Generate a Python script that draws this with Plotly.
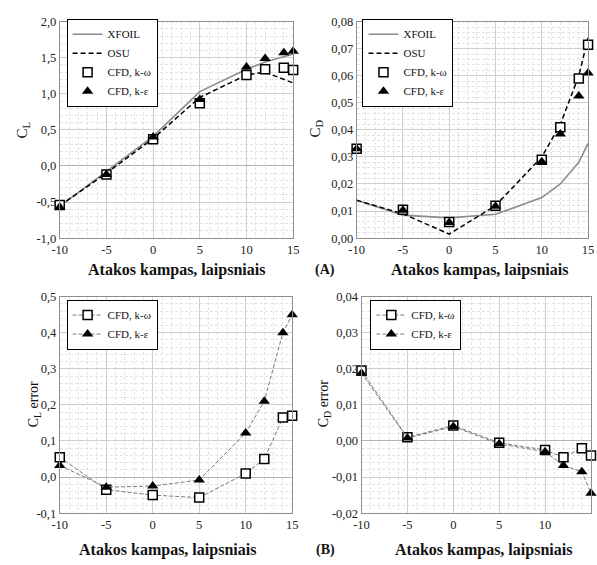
import plotly.graph_objects as go

# ---------------- data ----------------
alpha = [-10, -5, 0, 5, 10, 12, 14, 15]

cl_xfoil = [-0.56, -0.07, 0.41, 1.03, 1.34, 1.44, 1.52, 1.55]
cl_osu = [-0.55, -0.10, 0.38, 0.95, 1.26, 1.30, 1.20, 1.15]
cl_kw = [-0.54, -0.12, 0.37, 0.87, 1.26, 1.34, 1.36, 1.33]
cl_ke = [-0.57, -0.12, 0.40, 0.92, 1.37, 1.49, 1.57, 1.59]

cd_xfoil = [0.0140, 0.0085, 0.0075, 0.0088, 0.0150, 0.0200, 0.0280, 0.0350]
cd_osu = [0.0140, 0.0090, 0.0015, 0.0120, 0.0300, 0.0420, 0.0600, 0.0740]
cd_kw = [0.0330, 0.0105, 0.0060, 0.0120, 0.0290, 0.0410, 0.0590, 0.0715]
cd_ke = [0.0330, 0.0103, 0.0058, 0.0118, 0.0282, 0.0385, 0.0525, 0.0610]

clerr_kw = [0.055, -0.035, -0.050, -0.057, 0.010, 0.050, 0.165, 0.170]
clerr_ke = [0.032, -0.028, -0.025, -0.008, 0.122, 0.210, 0.400, 0.450]

cderr_kw = [0.0195, 0.0010, 0.0043, -0.0005, -0.0025, -0.0045, -0.0020, -0.0040]
cderr_ke = [0.0188, 0.0008, 0.0040, -0.0008, -0.0030, -0.0068, -0.0085, -0.0145]

x_ticks = [-10, -5, 0, 5, 10, 15]
x_ticktext = ["-10", "-5", "0", "5", "10", "15"]
cl_ticks = [-1.0, -0.5, 0.0, 0.5, 1.0, 1.5, 2.0]
cl_ticktext = ["-1,0", "-0,5", "0,0", "0,5", "1,0", "1,5", "2,0"]
cd_ticks = [0.00, 0.01, 0.02, 0.03, 0.04, 0.05, 0.06, 0.07, 0.08]
cd_ticktext = ["0,00", "0,01", "0,02", "0,03", "0,04", "0,05", "0,06", "0,07", "0,08"]
clerr_ticks = [-0.1, 0.0, 0.1, 0.2, 0.3, 0.4, 0.5]
clerr_ticktext = ["-0,1", "0,0", "0,1", "0,2", "0,3", "0,4", "0,5"]
cderr_ticks = [-0.02, -0.01, 0.00, 0.01, 0.02, 0.03, 0.04]
cderr_ticktext = ["-0,02", "-0,01", "0,00", "0,01", "0,02", "0,03", "0,04"]

x_title = "Atakos kampas, laipsniais"

# ---------------- styles ----------------
FONT = "Times New Roman, Liberation Serif, serif"
W, H = 597, 565
sq = dict(symbol="square", size=9, color="white", line=dict(color="black", width=1.5))
tri = dict(symbol="triangle-up", size=10, color="black", line=dict(color="black", width=0))
gray_line = dict(color="#8c8c8c", width=1.6)
dash_line = dict(color="black", width=1.5, dash="5px,3px")
err_line = dict(color="#7a7a7a", width=1, dash="4px,2px")

fig = go.Figure()


def add(x, y, name, mode, xa, ya, leg, **kw):
    fig.add_trace(go.Scatter(x=x, y=y, mode=mode, name=name, xaxis=xa, yaxis=ya,
                             legend=leg, cliponaxis=False, **kw))


# top-left
add(alpha, cl_xfoil, "XFOIL", "lines", "x", "y", "legend", line=gray_line)
add(alpha, cl_osu, "OSU", "lines", "x", "y", "legend", line=dash_line)
add(alpha, cl_kw, "CFD, k-ω", "markers", "x", "y", "legend", marker=sq)
add(alpha, cl_ke, "CFD, k-ε", "markers", "x", "y", "legend", marker=tri)
# top-right
add(alpha, cd_xfoil, "XFOIL", "lines", "x2", "y2", "legend2", line=gray_line)
add(alpha, cd_osu, "OSU", "lines", "x2", "y2", "legend2", line=dash_line)
add(alpha, cd_kw, "CFD, k-ω", "markers", "x2", "y2", "legend2", marker=sq)
add(alpha, cd_ke, "CFD, k-ε", "markers", "x2", "y2", "legend2", marker=tri)
# bottom-left
add(alpha, clerr_kw, "CFD, k-ω", "lines+markers", "x3", "y3", "legend3", marker=sq, line=err_line)
add(alpha, clerr_ke, "CFD, k-ε", "lines+markers", "x3", "y3", "legend3", marker=tri, line=err_line)
# bottom-right
add(alpha, cderr_kw, "CFD, k-ω", "lines+markers", "x4", "y4", "legend4", marker=sq, line=err_line)
add(alpha, cderr_ke, "CFD, k-ε", "lines+markers", "x4", "y4", "legend4", marker=tri, line=err_line)


def px_x(p):
    return p / W


def px_y(p):
    return 1 - p / H


def xaxis(dom, anchor):
    return dict(domain=dom, anchor=anchor, range=[-10, 15], tickmode="array",
                tickvals=x_ticks, ticktext=x_ticktext, showgrid=True, gridcolor="#cfcfcf",
                gridwidth=1, zeroline=False, showline=True, linecolor="#8f8f8f", linewidth=1,
                mirror=True, ticks="", ticklen=0,
                tickfont=dict(family=FONT, size=12.5, color="#222"),
                minor=dict(tick0=0, dtick=1, showgrid=True, gridcolor="#e3e3e3",
                           griddash="3px,2px", gridwidth=1))


def yaxis(dom, anchor, rng, tv, tt, mdt):
    return dict(domain=dom, anchor=anchor, range=rng, tickmode="array", tickvals=tv,
                ticktext=tt, showgrid=True, gridcolor="#cfcfcf", gridwidth=1,
                zeroline=True, zerolinecolor="#b5b5b5", zerolinewidth=1,
                showline=True, linecolor="#8f8f8f", linewidth=1, mirror=True,
                ticks="", ticklen=0,
                tickfont=dict(family=FONT, size=12.5, color="#222"),
                minor=dict(tick0=0, dtick=mdt, showgrid=True, gridcolor="#e3e3e3",
                           griddash="3px,2px", gridwidth=1))


top_dom = [px_y(237), px_y(15)]
bot_dom = [px_y(519), px_y(297)]

legend_common = dict(bgcolor="white", bordercolor="black", borderwidth=1,
                     font=dict(family=FONT, size=11, color="#111"),
                     xanchor="left", yanchor="top", itemwidth=30)

fig.update_layout(
    width=W, height=H, margin=dict(l=0, r=0, t=0, b=0),
    paper_bgcolor="white", plot_bgcolor="white",
    font=dict(family=FONT, color="#111"),
    xaxis=xaxis([px_x(53), px_x(292)], "y"),
    yaxis=yaxis(top_dom, "x", [-1.0, 2.0], cl_ticks, cl_ticktext, 0.1),
    xaxis2=xaxis([px_x(357), px_x(594)], "y2"),
    yaxis2=yaxis(top_dom, "x2", [0.0, 0.08], cd_ticks, cd_ticktext, 0.002),
    xaxis3=xaxis([px_x(53), px_x(291)], "y3"),
    yaxis3=yaxis(bot_dom, "x3", [-0.1, 0.5], clerr_ticks, clerr_ticktext, 0.02),
    xaxis4=xaxis([px_x(362), px_x(597)], "y4"),
    yaxis4=yaxis(bot_dom, "x4", [-0.02, 0.04], cderr_ticks, cderr_ticktext, 0.002),
    legend=dict(x=px_x(60), y=px_y(12), **legend_common),
    legend2=dict(x=px_x(363), y=px_y(12), **legend_common),
    legend3=dict(x=px_x(60), y=px_y(300), **legend_common),
    legend4=dict(x=px_x(371), y=px_y(300), **legend_common),
)

annots = [
    (173, 270, x_title, 16, True, 0),
    (483, 270, x_title, 16, True, 0),
    (163, 557, x_title, 16, True, 0),
    (487, 557, x_title, 16, True, 0),
    (325, 270, "(A)", 14, True, 0),
    (325, 557, "(B)", 14, True, 0),
    (15, 127, "C<sub>L</sub>", 15, False, -90),
    (315, 125, "C<sub>D</sub>", 15, False, -90),
    (28, 407, "C<sub>L</sub> error", 14, False, -90),
    (325, 407, "C<sub>D</sub> error", 14, False, -90),
]
for (ax, ay, txt, sz, bold, ang) in annots:
    fig.add_annotation(x=px_x(ax), y=px_y(ay), xref="paper", yref="paper",
                       text=("<b>%s</b>" % txt) if bold else txt, showarrow=False,
                       textangle=ang, xanchor="center", yanchor="middle",
                       font=dict(family=FONT, size=sz, color="#111"))

fig.write_html("out.html")
